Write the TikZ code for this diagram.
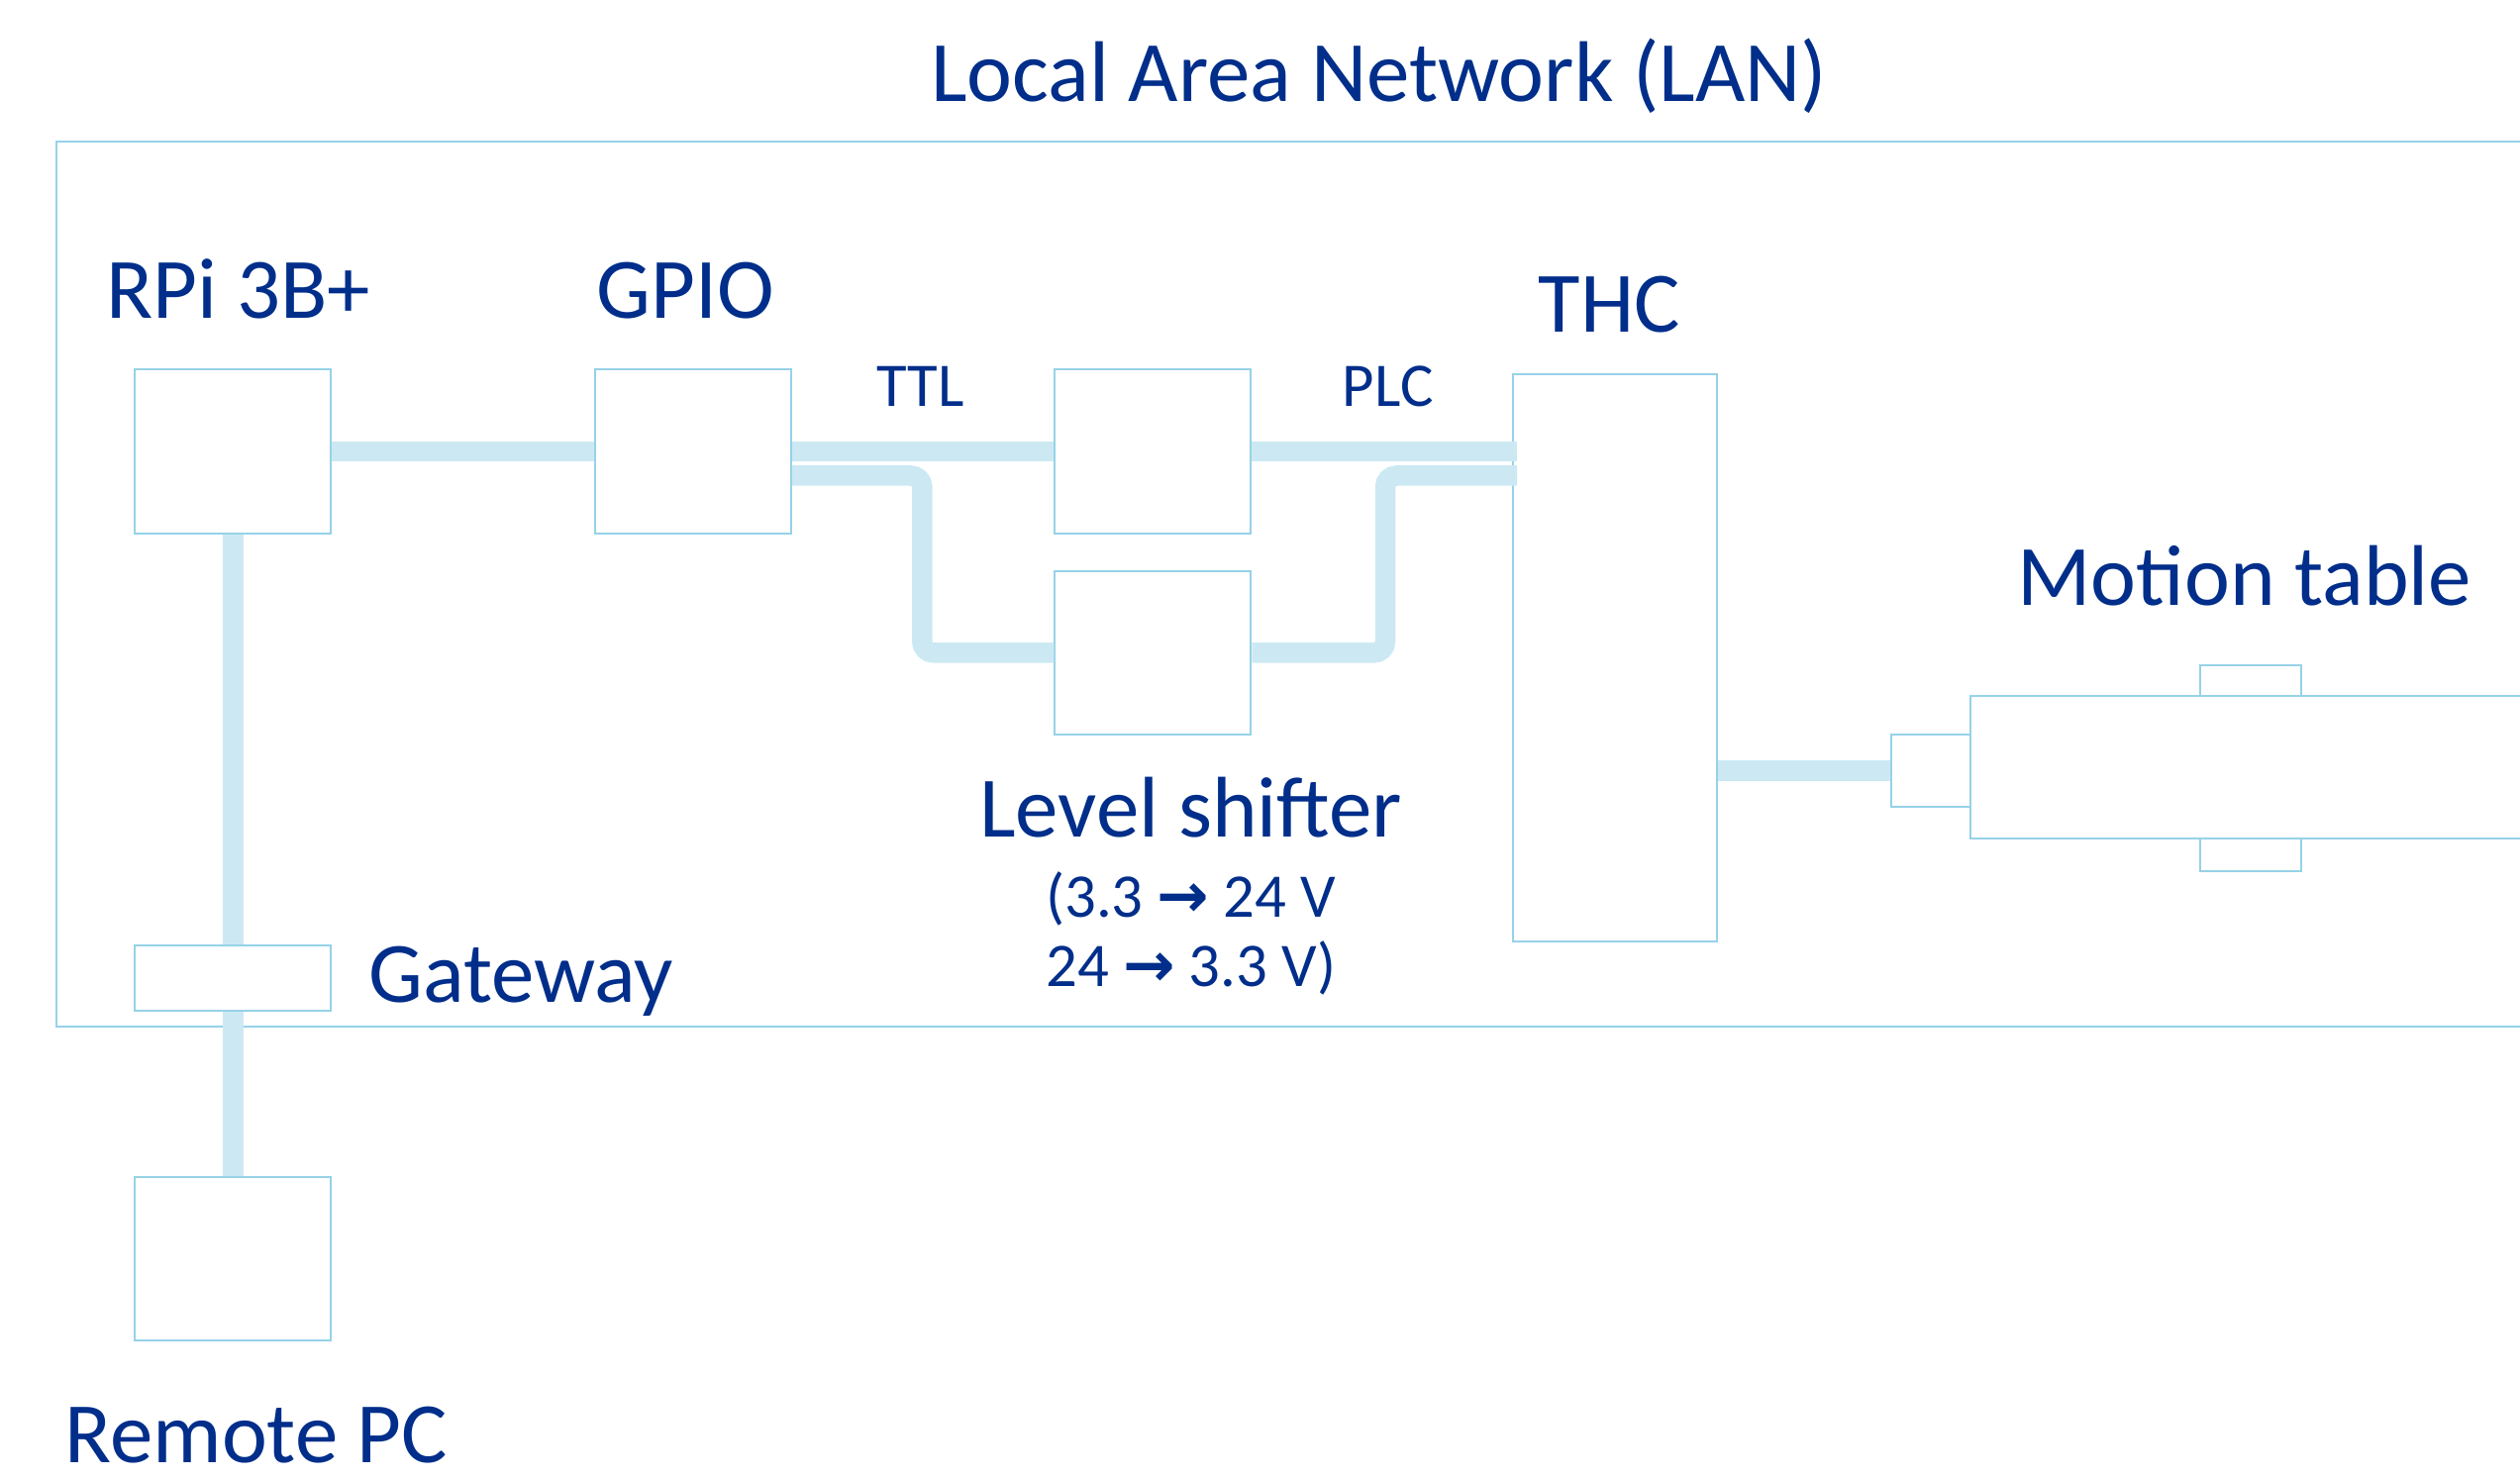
\documentclass[tikz,border=0pt]{standalone}
\usepackage{fontspec}
\setmainfont{Carlito}
\newfontfamily\arrowfont{DejaVu Sans}
\usetikzlibrary{positioning,calc}
\definecolor{lan_navy}{RGB}{0,46,138}
\definecolor{box_line}{RGB}{150,210,232}
\definecolor{wire_blue}{RGB}{204,233,243}
\newcommand{\shiftarrow}{{\arrowfont\bfseries →}}

\begin{document}
\begin{tikzpicture}[x=0.02cm, y=-0.02cm,
    unit/.style={draw=box_line, line width=0.7pt, fill=white, inner sep=0pt,
                 minimum width=2.44cm, minimum height=2.04cm},
    wire/.style={draw=wire_blue, line width=7.2pt},
    biglabel/.style={text=lan_navy, font=\fontsize{30.5}{36}\selectfont, inner sep=0pt},
    smalllabel/.style={text=lan_navy, font=\fontsize{22}{26}\selectfont, inner sep=0pt}]
    \useasboundingbox (0,0) rectangle (1568,921);
    \begin{scope}
    \clip (0,0) rectangle (1568,921);

    % LAN frame
    \draw[draw=box_line, line width=0.7pt] (35,88) rectangle (1720,639);
    \node[biglabel, anchor=base] (lan) at (858,63) {Local Area Network (LAN)};

    % Blocks
    \node[unit] (rpi) at (145,281) {};
    \node[unit, right=3.26cm of rpi] (gpio) {};
    \node[unit, right=3.26cm of gpio] (lsa) {};
    \node[unit, below=0.44cm of lsa] (lsb) {};
    \node[unit, minimum width=2.54cm, minimum height=7.06cm,
          right=3.24cm of lsa.north east, anchor=north west, yshift=-0.06cm] (thc) {};
    \node[unit, minimum height=0.82cm, below=5.1cm of rpi] (gw) {};
    \node[unit, below=2.04cm of gw] (pc) {};

    % Motion table
    \node[unit, minimum width=12cm, minimum height=1.78cm] (table) at (1526,477.5) {};
    \node[unit, minimum width=0.98cm, minimum height=0.9cm] (drive) at (1201.5,479.5) {};
    \node[unit, minimum width=1.26cm, minimum height=0.38cm] (tabtop) at (1400.5,423.5) {};
    \node[unit, minimum width=1.26cm, minimum height=0.4cm] (tabbot) at (1400.5,532) {};

    % Wires
    \draw[wire] (rpi) -- (gpio);
    \draw[wire] (gpio) -- (lsa);
    \draw[wire, rounded corners=4pt] ($(gpio.east)+(0,15)$) -| ([xshift=-1.64cm]lsb.west) -- (lsb.west);
    \draw[wire] (lsa.east) -- ($(lsa.east -| thc.west)+(3,0)$);
    \draw[wire, rounded corners=4pt] (lsb.east) -- ++(83,0) |- ($(lsa.east -| thc.west)+(3,15)$);
    \draw[wire] (drive.west -| thc.east) -- (drive.west);
    \draw[wire] (rpi) -- (gw);
    \draw[wire] (gw) -- (pc);

    % Labels
    \node[biglabel, anchor=base west] (rpilbl) at (66,198) {RPi 3B+};
    \node[biglabel, anchor=base west] (gpiolbl) at (371,198) {GPIO};
    \node[biglabel, anchor=base west] (thclbl) at (957,207) {THC};
    \node[smalllabel, anchor=base west] (ttl) at (545,253) {TTL};
    \node[smalllabel, anchor=base west] (plc) at (835,253) {PLC};
    \node[biglabel, anchor=base] (lslbl) at (741,521) {Level shifter};
    \node[smalllabel, anchor=base] (volta) at (741,571) {(3.3 \shiftarrow{} 24 V};
    \node[smalllabel, anchor=base] (voltb) at (741,614) {24 \shiftarrow{} 3.3 V)};
    \node[biglabel, anchor=base west] (gwlbl) at (229,624) {Gateway};
    \node[biglabel, anchor=base west] (pclbl) at (40,910) {Remote PC};
    \node[biglabel, anchor=base west] (tablelbl) at (1255,377) {Motion table};
    \end{scope}
\end{tikzpicture}
\end{document}
